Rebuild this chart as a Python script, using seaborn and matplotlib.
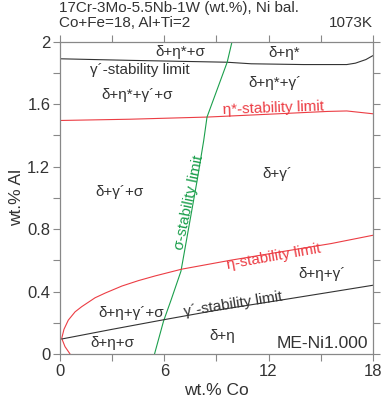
import matplotlib
matplotlib.use("Agg")
import matplotlib.pyplot as plt
import seaborn as sns
import pandas as pd

# phase boundaries (wt.% Co, wt.% Al)
co_gp_top = [0, 4, 9.6, 11, 14, 16.5, 17.0, 17.6, 18]
al_gp_top = [1.89, 1.88, 1.868, 1.858, 1.853, 1.853, 1.862, 1.885, 1.91]

co_etastar = [0, 4, 8.5, 12, 15.4, 16.5, 18]
al_etastar = [1.495, 1.503, 1.517, 1.535, 1.553, 1.556, 1.538]

co_sigma = [5.44, 5.96, 6.39, 6.96, 7.89, 8.27, 8.46, 9.62, 9.9]
al_sigma = [0, 0.211, 0.345, 0.53, 1.11, 1.367, 1.517, 1.868, 2.0]

co_eta = [0.58, 0.29, 0.1, 0.23, 0.48, 0.87, 1.25, 2.02, 2.6, 3.56, 4.52, 5.48,
          7.0, 9.8, 12.7, 15.6, 18]
al_eta = [0, 0.047, 0.10, 0.158, 0.217, 0.27, 0.303, 0.36, 0.39, 0.435, 0.47, 0.50,
          0.543, 0.60, 0.654, 0.707, 0.76]

co_gp_low = [0.1, 3, 6, 9, 12.7, 15.5, 18]
al_gp_low = [0.096, 0.158, 0.22, 0.28, 0.345, 0.395, 0.44]

# region labels
lab_text = ["δ+η*+σ", "δ+η*", "γ´-stability limit", "δ+η*+γ´+σ", "δ+η*+γ´",
            "η*-stability limit", "δ+γ´", "δ+γ´+σ", "σ-stability limit",
            "η-stability limit", "δ+η+γ´", "δ+η+γ´+σ", "γ´-stability limit",
            "δ+η", "δ+η+σ"]
lab_co = [6.9, 12.9, 4.6, 4.45, 12.35, 12.3, 12.5, 3.45, 7.45, 12.3, 15.1, 4.1, 9.95, 9.33, 3.0]
lab_al = [1.935, 1.925, 1.815, 1.66, 1.735, 1.575, 1.155, 1.04, 0.97, 0.625, 0.51, 0.265, 0.32, 0.115, 0.068]
lab_rot = [0, 0, 0, 0, 0, 2, 0, 0, 78, 10, 0, 0, 9, 0, 0]
lab_col = ["k", "k", "k", "k", "k", "r", "k", "k", "g", "r", "k", "k", "k", "k", "k"]

BLACK = "#333333"
RED = "#ec3d44"
GREEN = "#1b9f4c"
cmap = {"k": BLACK, "r": RED, "g": GREEN}

sns.set_style("ticks")
plt.rcParams["font.family"] = ["Liberation Sans", "DejaVu Sans"]

fig = plt.figure(figsize=(3.82, 4.0), dpi=100)
ax = fig.add_axes([0.157, 0.115, 0.819, 0.781])

lines = [(co_gp_top, al_gp_top, BLACK), (co_etastar, al_etastar, RED),
         (co_sigma, al_sigma, GREEN), (co_eta, al_eta, RED),
         (co_gp_low, al_gp_low, BLACK)]
for xs, ys, c in lines:
    d = pd.DataFrame({"co": xs, "al": ys})
    sns.lineplot(data=d, x="co", y="al", sort=False, estimator=None,
                 color=c, lw=0.8, ax=ax)

for t, x, y, r, c in zip(lab_text, lab_co, lab_al, lab_rot, lab_col):
    ax.text(x, y, t, rotation=r, color=cmap[c], fontsize=11,
            ha="center", va="center", rotation_mode="anchor")

ax.text(17.75, 0.068, "ME-Ni1.000", ha="right", va="center", fontsize=12.5, color=BLACK)

ax.set_xlim(0, 18)
ax.set_ylim(0, 2)
ax.set_xticks([0, 6, 12, 18])
ax.set_xticks([3, 9, 15], minor=True)
ax.set_yticks([0, 0.4, 0.8, 1.2, 1.6, 2])
ax.set_yticklabels(["0", "0.4", "0.8", "1.2", "1.6", "2"])
ax.set_yticks([0.2, 0.6, 1.0, 1.4, 1.8], minor=True)
ax.set_xlabel("wt.% Co", fontsize=12.5, color=BLACK, labelpad=3)
ax.set_ylabel("wt.% Al", fontsize=12.5, color=BLACK, labelpad=2)

for s in ax.spines.values():
    s.set_visible(True)
    s.set_color("#888888")
    s.set_linewidth(0.9)
ax.tick_params(which="both", direction="out", length=5, width=0.8, color="#888888",
               top=True, right=True, labelsize=12, labelcolor=BLACK, pad=2)

fig.text(0.155, 0.98, "17Cr-3Mo-5.5Nb-1W (wt.%), Ni bal.", fontsize=11, color=BLACK, va="center")
fig.text(0.155, 0.942, "Co+Fe=18, Al+Ti=2", fontsize=11, color=BLACK, va="center")
fig.text(0.976, 0.942, "1073K", fontsize=11, color=BLACK, va="center", ha="right")

fig.savefig("out.png", dpi=100)
